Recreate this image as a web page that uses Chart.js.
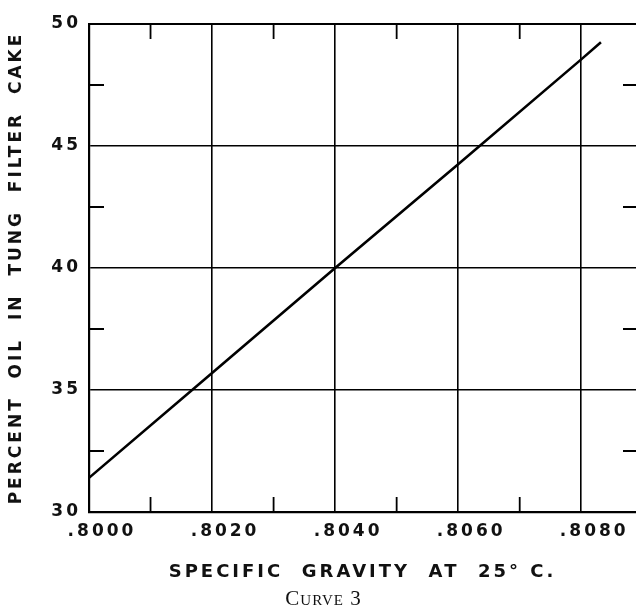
<!DOCTYPE html>
<html><head><meta charset="utf-8">
<script src="https://cdn.jsdelivr.net/npm/chart.js@4.4.1/dist/chart.umd.min.js"></script>
<style>
html,body{margin:0;padding:0;background:#fff;overflow:hidden}
#wrap{position:relative;width:636px;height:612px}
#caption{position:absolute;left:0;width:647px;top:587px;text-align:center;font-family:"Liberation Serif","DejaVu Serif",serif;font-variant:small-caps;font-size:21px;color:#111;letter-spacing:1px;line-height:22px}
</style></head><body>
<div id="wrap"><canvas id="c" width="636" height="612"></canvas><div id="caption">Curve 3</div></div>
<script>
// Data
const gravity    = [0.8000, 0.8020, 0.8040, 0.8060, 0.8080, 0.80832];
const oilPercent = [31.4, 35.7, 40.0, 44.25, 48.55, 49.25];
// Axis ticks
const xMajorTicks = [0.8000, 0.8020, 0.8040, 0.8060, 0.8080];
const xTickLabels = ['.8000', '.8020', '.8040', '.8060', '.8080'];
const xMinorTicks = [0.8010, 0.8030, 0.8050, 0.8070];
const yMajorTicks = [30, 35, 40, 45, 50];
const yTickLabels = ['30', '35', '40', '45', '50'];
const yMinorTicks = [32.5, 37.5, 42.5, 47.5];
const xTitle = 'SPECIFIC  GRAVITY  AT  25° C.';
const yTitle = 'PERCENT  OIL  IN  TUNG  FILTER  CAKE';

const INK = '#111';
const SPACING = '3px';

const framePlugin = {
  id: 'frame',
  beforeUpdate(c) { c.ctx.letterSpacing = SPACING; },
  beforeLayout(c) { c.ctx.letterSpacing = SPACING; },
  beforeDraw(c) { c.ctx.letterSpacing = SPACING; },
  afterDraw(c) {
    const ctx = c.ctx, a = c.chartArea, xs = c.scales.x, ys = c.scales.y;
    const L = 15;
    ctx.save();
    ctx.strokeStyle = '#000';
    ctx.lineWidth = 2;
    ctx.beginPath();
    ctx.moveTo(a.left, a.top); ctx.lineTo(a.right, a.top);
    ctx.stroke();
    ctx.lineWidth = 1.8;
    ctx.beginPath();
    xMinorTicks.forEach(v => {
      const px = xs.getPixelForValue(v);
      ctx.moveTo(px, a.bottom); ctx.lineTo(px, a.bottom - L);
      ctx.moveTo(px, a.top); ctx.lineTo(px, a.top + L);
    });
    yMinorTicks.forEach(v => {
      const py = ys.getPixelForValue(v);
      ctx.moveTo(a.left, py); ctx.lineTo(a.left + L, py);
      ctx.moveTo(a.right, py); ctx.lineTo(a.right - 13, py);
    });
    ctx.stroke();
    ctx.restore();
  }
};

const tickFont = { family: '"DejaVu Sans", sans-serif', size: 17, weight: 'bold' };
const xTitleFont = { family: '"DejaVu Sans", sans-serif', size: 18, weight: 'bold' };
const yTitleFont = { family: '"DejaVu Sans", sans-serif', size: 17, weight: 'bold' };

new Chart(document.getElementById('c'), {
  type: 'scatter',
  data: {
    datasets: [{
      data: gravity.map((g, i) => ({ x: g, y: oilPercent[i] })),
      showLine: true,
      borderColor: '#000',
      borderWidth: 2.6,
      pointRadius: 0,
      fill: false,
      tension: 0
    }]
  },
  options: {
    responsive: false,
    animation: false,
    devicePixelRatio: 1,
    layout: { padding: { top: 24, right: 0, left: 0, bottom: 0 } },
    plugins: { legend: { display: false }, tooltip: { enabled: false } },
    scales: {
      x: {
        type: 'linear',
        min: 0.8000,
        max: 0.80889,
        afterBuildTicks(s) { s.ticks = xMajorTicks.map(v => ({ value: v })); },
        afterFit(s) { s.height = 100; },
        ticks: {
          color: INK, font: tickFont, padding: 9, labelOffset: 13, maxRotation: 0, autoSkip: false,
          callback: (v) => { const i = xMajorTicks.findIndex(t => Math.abs(t - v) < 1e-7); return i >= 0 ? xTickLabels[i] : ''; }
        },
        grid: { color: '#000', lineWidth: 1.6, drawTicks: false },
        border: { display: true, color: '#000', width: 2.2 },
        title: { display: true, text: xTitle, color: INK, font: xTitleFont, padding: { top: 0, bottom: 29 } }
      },
      y: {
        type: 'linear',
        min: 30,
        max: 50,
        afterBuildTicks(s) { s.ticks = yMajorTicks.map(v => ({ value: v })); },
        afterFit(s) { s.width = 89; },
        ticks: {
          color: INK, font: tickFont, padding: 8, autoSkip: false,
          callback: (v) => { const i = yMajorTicks.indexOf(v); return i >= 0 ? yTickLabels[i] : ''; }
        },
        grid: { color: '#000', lineWidth: 1.6, drawTicks: false },
        border: { display: true, color: '#000', width: 2.2 },
        title: { display: true, text: yTitle, color: INK, font: yTitleFont, padding: { top: 6, bottom: 0 } }
      }
    }
  },
  plugins: [framePlugin]
});
</script>
</body></html>
